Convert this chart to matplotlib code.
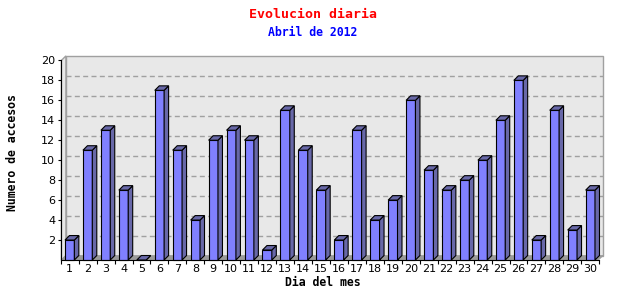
import matplotlib
matplotlib.use('Agg')
import matplotlib.pyplot as plt
from matplotlib.patches import Polygon, Rectangle

days = list(range(1, 31))
visits = [2, 11, 13, 7, 0, 17, 11, 4, 12, 13, 12, 1, 15, 11, 7,
          2, 13, 4, 6, 16, 9, 7, 8, 10, 14, 18, 2, 15, 3, 7]
yticks = [2, 4, 6, 8, 10, 12, 14, 16, 18, 20]
title = "Evolucion diaria"
subtitle = "Abril de 2012"
xlabel = "Dia del mes"
ylabel = "Numero de accesos"

W, H = 640, 300
fig = plt.figure(figsize=(W / 100, H / 100), dpi=100)
fig.patch.set_facecolor('white')
L, R, B, T = 60.7, 599.3, 260.0, 60.4
ax = fig.add_axes([L / W, 1 - B / H, (R - L) / W, (B - T) / H])
x0, x1 = 0.54, 30.46
ax.set_xlim(x0, x1)
ax.set_ylim(0, 20)
ax.patch.set_visible(False)

DX, DY = 0.25, 0.45
bw = 0.26
wall = '#e8e8e8'
edge = '#a0a0a0'

# back wall
ax.add_patch(Polygon([(x0 + DX, DY), (x1 + DX, DY), (x1 + DX, 20 + DY), (x0 + DX, 20 + DY)],
                     closed=True, fc=wall, ec=edge, lw=1.0, clip_on=False, zorder=0.5))
# left wall
ax.add_patch(Polygon([(x0, 0), (x0 + DX, DY), (x0 + DX, 20 + DY), (x0, 20)],
                     closed=True, fc=wall, ec=edge, lw=1.0, clip_on=False, zorder=0.6))
# floor
ax.add_patch(Polygon([(x0, 0), (x1, 0), (x1 + DX, DY), (x0 + DX, DY)],
                     closed=True, fc='#9a9a9a', ec='#9a9a9a', lw=0.5, clip_on=False, zorder=0.7))
# gridlines on back wall
for yv in yticks[:-1]:
    ax.plot([x0 + DX, x1 + DX], [yv + DY, yv + DY], color=edge, lw=1.0,
            dashes=(3.6, 2.4), clip_on=False, zorder=0.8)

front_c = '#8080ff'
side_c = '#6868a8'
for d, v in zip(days, visits):
    xl, xr = d - bw, d + bw
    ax.add_patch(Rectangle((xl, 0), xr - xl, v, fc=front_c, ec='black', lw=0.8,
                           clip_on=False, zorder=3))
    ax.add_patch(Polygon([(xr, 0), (xr + DX, DY), (xr + DX, v + DY), (xr, v)],
                         closed=True, fc=side_c, ec='black', lw=0.8, clip_on=False, zorder=3))
    ax.add_patch(Polygon([(xl, v), (xr, v), (xr + DX, v + DY), (xl + DX, v + DY)],
                         closed=True, fc=side_c, ec='black', lw=0.8, clip_on=False, zorder=3))

for s in ['top', 'right']:
    ax.spines[s].set_visible(False)
for s in ['left', 'bottom']:
    ax.spines[s].set_color('black')
    ax.spines[s].set_linewidth(0.8)
    ax.spines[s].set_zorder(4)

ax.set_xticks(days)
ax.set_xticklabels([str(d) for d in days], fontsize=8, family='DejaVu Sans')
ax.set_xticks([d + 0.5 for d in range(0, 31)], minor=True)
ax.tick_params(axis='x', which='major', length=0, pad=3)
ax.tick_params(axis='x', which='minor', length=3, width=0.8, direction='out')
ax.set_yticks(yticks)
ax.set_yticklabels([str(v) for v in yticks], fontsize=8, family='DejaVu Sans')
ax.tick_params(axis='y', length=2.5, width=0.8, pad=1.5)

fig.text(313 / W, 1 - 14 / H, title, color='red', fontsize=9.5, fontweight='bold',
         family='DejaVu Sans Mono', ha='center', va='center')
fig.text(313 / W, 1 - 32 / H, subtitle, color='blue', fontsize=8.3, fontweight='bold',
         family='DejaVu Sans Mono', ha='center', va='center')
fig.text(13 / W, 1 - 153 / H, ylabel, color='black', fontsize=8.3, fontweight='bold',
         family='DejaVu Sans Mono', ha='center', va='center', rotation=90)
fig.text(323 / W, 1 - 282 / H, xlabel, color='black', fontsize=8.3, fontweight='bold',
         family='DejaVu Sans Mono', ha='center', va='center')

fig.savefig('out.png', dpi=100, facecolor='white')
